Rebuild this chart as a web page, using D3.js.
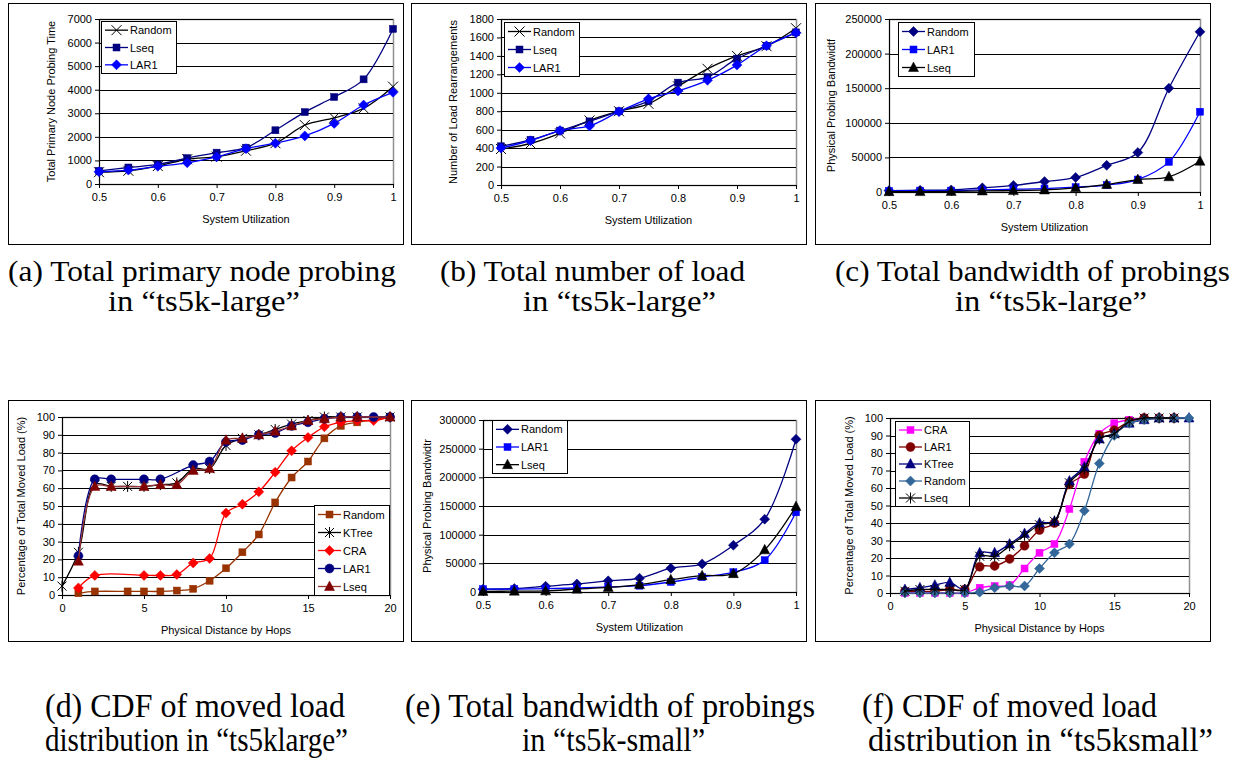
<!DOCTYPE html>
<html><head><meta charset="utf-8">
<script src="https://cdn.jsdelivr.net/npm/d3@7"></script>
<style>body{margin:0;background:#fff}svg{display:block}</style>
</head><body>
<svg id="chart" width="1253" height="761"></svg>
<script>
// ---------- data ----------
const utilization = [0.5,0.55,0.6,0.65,0.7,0.75,0.8,0.85,0.9,0.95,1];
const utilTicks = [0.5,0.6,0.7,0.8,0.9,1];
const utilTickLabels = ["0.5","0.6","0.7","0.8","0.9","1"];
const hopTicks = [0,5,10,15,20];

// (a) Total primary node probing time
const aRandom = [500,560,760,1050,1160,1410,1730,2500,2810,3210,4130];
const aLseq   = [560,700,830,1100,1330,1540,2280,3050,3690,4440,6580];
const aLAR1   = [520,590,750,900,1150,1500,1730,2040,2570,3350,3890];
const aYTicks = [0,1000,2000,3000,4000,5000,6000,7000];

// (b) Number of load rearrangements
const bRandom = [390,450,560,700,800,880,1070,1260,1400,1505,1700];
const bLseq   = [420,490,590,690,800,910,1110,1170,1370,1510,1655];
const bLAR1   = [400,480,590,640,795,935,1020,1135,1300,1510,1650];
const bYTicks = [0,200,400,600,800,1000,1200,1400,1600,1800];

// (c) Physical probing bandwidth, ts5k-large
const cRandom = [2000,2500,3000,6000,9500,15000,21000,38500,57000,150000,231500];
const cLAR1   = [1500,2000,2000,3000,4000,5000,7000,10000,18000,43500,116000];
const cLseq   = [500,600,900,1500,2000,3000,6000,11000,18000,22000,44500];
const cYTicks = [0,50000,100000,150000,200000,250000];

// (d) CDF of moved load, ts5klarge
const dRandomX = [1,2,4,5,6,7,8,9,10,11,12,13,14,15,16,17,18,20];
const dRandomY = [1,2,2,2,2,2.5,3.5,8,15,24,34,52,66,75,88,95,97,100];
const dKTreeX  = [0,1,2,3,4,5,6,7,8,9,10,11,12,13,14,15,16,17,18,20];
const dKTreeY  = [5,24,62,61,61,61,62,63,71,71,84,88,90,93,96,98,100,100,100,100];
const dCRAX    = [1,2,5,6,7,8,9,10,11,12,13,14,15,16,17,18,19,20];
const dCRAY    = [4,11,11,11,11.5,18,20.5,46,51,58,69,81,88.5,94.5,97,98,98,100];
const dLAR1X   = [1,2,3,5,6,8,9,10,11,12,13,14,15,16,17,18,19,20];
const dLAR1Y   = [22,65,65,65,65,73,75,86,87,90,91,95,97,99,100,100,100,100];
const dLseqX   = [1,2,3,5,6,7,8,9,10,11,12,13,14,15,16,17,18,20];
const dLseqY   = [19,61,61,61,62,62,70,71,87,88,90,92,95,98,99,100,100,100];
const pctTicks = [0,10,20,30,40,50,60,70,80,90,100];

// (e) Physical probing bandwidth, ts5k-small
const eRandom = [5000,6000,10000,14000,19500,24000,41500,49000,81500,127000,266500];
const eLAR1   = [5000,5000,6000,7000,9000,11000,17500,26000,34500,55500,139000];
const eLseq   = [1000,1500,2000,5000,8000,13000,21500,28500,32000,73500,149000];
const eYTicks = [0,50000,100000,150000,200000,250000,300000];

// (f) CDF of moved load, ts5ksmall
const fHops19 = [1,2,3,4,5,6,7,8,9,10,11,12,13,14,15,16,17,18,19];
const fHops20 = [1,2,3,4,5,6,7,8,9,10,11,12,13,14,15,16,17,18,19,20];
const fCRA    = [0,0,0,0,0,3,4,4.5,14,23,28,48,75,91,97,99,100,100,100];
const fLAR1   = [1,1,1,2,2,15,15.5,19.5,27,36,40,62,68,90,93,98,100,100,100];
const fKTree  = [2,3,4.5,6,2,23,23,28,34,40,41,64,72,88,91,97,99,100,100,100];
const fRandom = [0,0,0,0,0,0.5,3,4,4,14,23,28,47,74,90,97,99,100,100,100];
const fLseq   = [1,2,2,2,2,21,21,27,33,39,41,63,71,88,91,98,100,100,100];

// ---------- drawing ----------
const svg = d3.select("#chart");
const SANS = "'Liberation Sans', Arial, sans-serif";
const SERIF = "'Liberation Serif', 'Times New Roman', serif";

function drawMarker(g, type, color, cx, cy) {
  const t = `translate(${cx},${cy})`;
  if (type === "square") {
    g.append("rect").attr("x", cx-3.5).attr("y", cy-3.5).attr("width", 7).attr("height", 7)
      .attr("fill", color).attr("stroke", color).attr("stroke-width", 0.5);
  } else if (type === "diamond") {
    g.append("path").attr("transform", t).attr("d", "M0,-5L5,0L0,5L-5,0Z")
      .attr("fill", color).attr("stroke", color).attr("stroke-width", 0.5);
  } else if (type === "triangle") {
    g.append("path").attr("transform", t).attr("d", "M0,-5.5L5,4L-5,4Z")
      .attr("fill", color).attr("stroke", color).attr("stroke-width", 0.5);
  } else if (type === "circle") {
    g.append("circle").attr("cx", cx).attr("cy", cy).attr("r", 4.5)
      .attr("fill", color).attr("stroke", color).attr("stroke-width", 0.5);
  } else if (type === "x") {
    g.append("path").attr("transform", t).attr("d", "M-5,-5L5,5M-5,5L5,-5")
      .attr("fill", "none").attr("stroke", color).attr("stroke-width", 1);
  } else if (type === "star") {
    g.append("path").attr("transform", t).attr("d", "M-4.5,-4.5L4.5,4.5M-4.5,4.5L4.5,-4.5M0,-5.5L0,5.5")
      .attr("fill", "none").attr("stroke", color).attr("stroke-width", 1);
  }
}

function panel(cfg) {
  const g = svg.append("g");
  const p = cfg.plot;
  g.append("rect").attr("x", cfg.box.x + 0.5).attr("y", cfg.box.y + 0.5)
    .attr("width", cfg.box.w).attr("height", cfg.box.h)
    .attr("fill", "#fff").attr("stroke", "#000").attr("stroke-width", 1);

  const x = d3.scaleLinear().domain(cfg.xDomain).range([p.l, p.r]);
  const y = d3.scaleLinear().domain(cfg.yDomain).range([p.b, p.t]);

  g.append("rect").attr("x", p.l + 0.5).attr("y", p.t + 0.5)
    .attr("width", p.r - p.l).attr("height", p.b - p.t)
    .attr("fill", "none").attr("stroke", "#909090").attr("stroke-width", 1.5);
  g.selectAll(".grid").data(cfg.yTicks.filter(v => v !== cfg.yDomain[0])).enter()
    .append("line")
    .attr("x1", p.l).attr("x2", p.r)
    .attr("y1", d => Math.round(y(d)) + 0.5).attr("y2", d => Math.round(y(d)) + 0.5)
    .attr("stroke", "#000").attr("stroke-width", 1);

  const ya = g.append("g").attr("transform", `translate(${p.l},0)`)
    .call(d3.axisLeft(y).tickValues(cfg.yTicks).tickSize(4).tickPadding(3).tickFormat(d => String(d)));
  const xa = g.append("g").attr("transform", `translate(0,${p.b})`)
    .call(d3.axisBottom(x).tickValues(cfg.xTicks).tickSize(4).tickPadding(5)
      .tickFormat((d, i) => cfg.xTickLabels ? cfg.xTickLabels[i] : String(d)));
  [ya, xa].forEach(a => {
    a.selectAll("text").attr("font-family", SANS).attr("font-size", 11).attr("fill", "#000");
    a.selectAll("line").attr("stroke", "#000");
    a.select(".domain").attr("stroke", "#000");
  });
  ya.select(".domain").attr("d", `M0.5,${p.t}V${p.b + 0.5}`);

  g.append("text").attr("x", (p.l + p.r) / 2).attr("y", p.b + 39)
    .attr("text-anchor", "middle").attr("font-family", SANS).attr("font-size", 11)
    .text(cfg.xTitle);
  g.append("text").attr("transform", `translate(${cfg.yTitleX},${(p.t + p.b) / 2}) rotate(-90)`)
    .attr("text-anchor", "middle").attr("dominant-baseline", "central")
    .attr("font-family", SANS).attr("font-size", 11).text(cfg.yTitle);

  const line = d3.line().curve(d3.curveCatmullRom.alpha(0.5)).x(d => x(d[0])).y(d => y(d[1]));
  const sg = g.append("g");
  cfg.series.forEach(s => {
    const pts = s.x.map((xv, i) => [xv, s.y[i]]);
    sg.append("path").attr("d", line(pts)).attr("fill", "none")
      .attr("stroke", s.line || s.color).attr("stroke-width", 1.3);
    pts.forEach(pt => drawMarker(sg, s.marker, s.color, x(pt[0]), y(pt[1])));
  });

  const L = cfg.legend;
  const lg = g.append("g");
  lg.append("rect").attr("x", L.x + 0.5).attr("y", L.y + 0.5).attr("width", L.w).attr("height", L.h)
    .attr("fill", "#fff").attr("stroke", "#000").attr("stroke-width", 1);
  const n = cfg.series.length;
  const step = L.h / n;
  cfg.series.forEach((s, i) => {
    const cy = L.y + step * (i + 0.5) + 0.5;
    lg.append("line").attr("x1", L.x + 4).attr("x2", L.x + 27).attr("y1", cy).attr("y2", cy)
      .attr("stroke", s.line || s.color).attr("stroke-width", 1.3);
    drawMarker(lg, s.marker, s.color, L.x + 15.5, cy);
    lg.append("text").attr("x", L.x + 29).attr("y", cy).attr("dominant-baseline", "central")
      .attr("font-family", SANS).attr("font-size", 11).text(s.name);
  });
}

const NAVY = "#000080", BLUE = "#0000ff", BLACK = "#000000";

panel({
  box: {x: 8, y: 3, w: 395, h: 241}, plot: {l: 99, r: 393, t: 19, b: 184},
  xDomain: [0.5, 1], xTicks: utilTicks, xTickLabels: utilTickLabels,
  yDomain: [0, 7000], yTicks: aYTicks,
  xTitle: "System Utilization", yTitle: "Total Primary Node Probing Time", yTitleX: 51,
  legend: {x: 101, y: 21, w: 75, h: 52},
  series: [
    {name: "Random", x: utilization, y: aRandom, color: BLACK, marker: "x"},
    {name: "Lseq", x: utilization, y: aLseq, color: NAVY, marker: "square"},
    {name: "LAR1", x: utilization, y: aLAR1, color: BLUE, marker: "diamond"}
  ]
});

panel({
  box: {x: 411, y: 3, w: 395, h: 241}, plot: {l: 501, r: 796, t: 19, b: 185},
  xDomain: [0.5, 1], xTicks: utilTicks, xTickLabels: utilTickLabels,
  yDomain: [0, 1800], yTicks: bYTicks,
  xTitle: "System Utilization", yTitle: "Number of Load Rearrangements", yTitleX: 453,
  legend: {x: 504, y: 22, w: 75, h: 54},
  series: [
    {name: "Random", x: utilization, y: bRandom, color: BLACK, marker: "x"},
    {name: "Lseq", x: utilization, y: bLseq, color: NAVY, marker: "square"},
    {name: "LAR1", x: utilization, y: bLAR1, color: BLUE, marker: "diamond"}
  ]
});

panel({
  box: {x: 815, y: 3, w: 395, h: 241}, plot: {l: 889, r: 1200, t: 19, b: 192},
  xDomain: [0.5, 1], xTicks: utilTicks, xTickLabels: utilTickLabels,
  yDomain: [0, 250000], yTicks: cYTicks,
  xTitle: "System Utilization", yTitle: "Physical Probing Bandwidtf", yTitleX: 831,
  legend: {x: 898, y: 22, w: 76, h: 54},
  series: [
    {name: "Random", x: utilization, y: cRandom, color: NAVY, marker: "diamond"},
    {name: "LAR1", x: utilization, y: cLAR1, color: BLUE, marker: "square"},
    {name: "Lseq", x: utilization, y: cLseq, color: BLACK, marker: "triangle"}
  ]
});

panel({
  box: {x: 8, y: 400, w: 395, h: 241}, plot: {l: 62, r: 390, t: 417, b: 595},
  xDomain: [0, 20], xTicks: hopTicks,
  yDomain: [0, 100], yTicks: pctTicks,
  xTitle: "Physical Distance by Hops", yTitle: "Percentage of Total Moved Load (%)", yTitleX: 21,
  legend: {x: 314, y: 505, w: 75, h: 90},
  series: [
    {name: "Random", x: dRandomX, y: dRandomY, color: "#993300", marker: "square"},
    {name: "KTree", x: dKTreeX, y: dKTreeY, color: BLACK, marker: "star"},
    {name: "CRA", x: dCRAX, y: dCRAY, color: "#ff0000", marker: "diamond"},
    {name: "LAR1", x: dLAR1X, y: dLAR1Y, color: NAVY, marker: "circle"},
    {name: "Lseq", x: dLseqX, y: dLseqY, color: "#800000", line: "#993333", marker: "triangle"}
  ]
});

panel({
  box: {x: 411, y: 400, w: 395, h: 241}, plot: {l: 483, r: 796, t: 420, b: 592},
  xDomain: [0.5, 1], xTicks: utilTicks, xTickLabels: utilTickLabels,
  yDomain: [0, 300000], yTicks: eYTicks,
  xTitle: "System Utilization", yTitle: "Physical Probing Bandwidtr", yTitleX: 427,
  legend: {x: 492, y: 420, w: 75, h: 53},
  series: [
    {name: "Random", x: utilization, y: eRandom, color: NAVY, marker: "diamond"},
    {name: "LAR1", x: utilization, y: eLAR1, color: BLUE, marker: "square"},
    {name: "Lseq", x: utilization, y: eLseq, color: BLACK, marker: "triangle"}
  ]
});

panel({
  box: {x: 815, y: 400, w: 395, h: 241}, plot: {l: 890, r: 1189, t: 418, b: 593},
  xDomain: [0, 20], xTicks: hopTicks,
  yDomain: [0, 100], yTicks: pctTicks,
  xTitle: "Physical Distance by Hops", yTitle: "Percentage of Total Moved Load (%)", yTitleX: 849,
  legend: {x: 895, y: 421, w: 74, h: 85},
  series: [
    {name: "CRA", x: fHops19, y: fCRA, color: "#ff00ff", marker: "square"},
    {name: "LAR1", x: fHops19, y: fLAR1, color: "#800000", marker: "circle"},
    {name: "KTree", x: fHops20, y: fKTree, color: NAVY, marker: "triangle"},
    {name: "Random", x: fHops20, y: fRandom, color: "#336699", marker: "diamond"},
    {name: "Lseq", x: fHops19, y: fLseq, color: BLACK, marker: "star"}
  ]
});

// ---------- captions ----------
const captions = [
  {t: "(a) Total primary node probing", x: 8, y: 281, w: 388, s: 30},
  {t: "in \u201cts5k-large\u201d", x: 108, y: 311, w: 192, s: 30},
  {t: "(b) Total number of load", x: 440, y: 281, w: 305, s: 30},
  {t: "in \u201cts5k-large\u201d", x: 523, y: 311, w: 193, s: 30},
  {t: "(c) Total bandwidth of probings", x: 835, y: 281, w: 395, s: 30},
  {t: "in \u201cts5k-large\u201d", x: 955, y: 311, w: 192, s: 30},
  {t: "(d) CDF of moved load", x: 45, y: 717, w: 300, s: 33},
  {t: "distribution in \u201cts5klarge\u201d", x: 45, y: 751, w: 303, s: 33},
  {t: "(e) Total bandwidth of probings", x: 405, y: 717, w: 410, s: 33},
  {t: "in \u201cts5k-small\u201d", x: 522, y: 751, w: 183, s: 33},
  {t: "(f) CDF of moved load", x: 862, y: 717, w: 295, s: 33},
  {t: "distribution in \u201cts5ksmall\u201d", x: 868, y: 751, w: 345, s: 33}
];
svg.selectAll(".cap").data(captions).enter().append("text")
  .attr("x", d => d.x).attr("y", d => d.y)
  .attr("textLength", d => d.w).attr("lengthAdjust", "spacingAndGlyphs")
  .attr("font-family", SERIF).attr("font-size", d => d.s).attr("fill", "#000")
  .text(d => d.t);
</script>
</body></html>
